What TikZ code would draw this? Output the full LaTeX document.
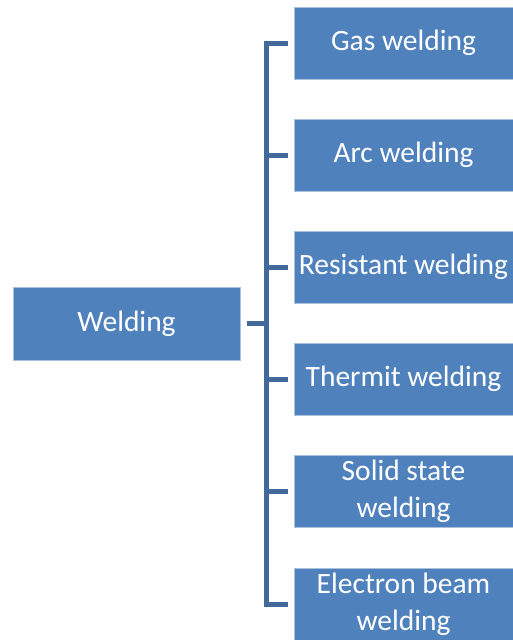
\documentclass[tikz,border=0pt]{standalone}
\usepackage{fontspec}
\setmainfont{Carlito}
\definecolor{boxblue}{HTML}{4F81BD}
\definecolor{boxedge}{HTML}{A9C1DF}
\definecolor{linkblue}{HTML}{41699B}
\begin{document}
\begin{tikzpicture}[x=1pt,y=-1pt,
  box/.style={fill=boxblue,draw=boxedge,line width=1pt,text=white,align=center,
    minimum width=219pt,minimum height=72pt,inner sep=2pt,
    font=\fontsize{29.5}{37}\selectfont},
  link/.style={draw=linkblue,line width=5pt}]
  \useasboundingbox (0,0) rectangle (513,640);
  \node[box,minimum width=227pt,minimum height=73pt] (root) at (126.5,323.5) {Welding};
  \foreach \y/\name/\lab in {43/gas/Gas welding, 155/arc/Arc welding,
      267/resist/Resistant welding, 379/thermit/Thermit welding,
      491/solid/{Solid state\\welding}, 604/beam/{Electron beam\\welding}} {
    \node[box] (\name) at (403.5,\y) {\lab};
  }
  \coordinate (spine) at (266,323.5);
  \draw[link] ([xshift=6pt]root.east) -- (spine);
  \draw[link] ([xshift=-6pt]gas.west) -| (spine |- beam.west) -- ([xshift=-6pt]beam.west);
  \foreach \name in {arc,resist,thermit,solid}
    \draw[link] (spine |- \name.west) -- ([xshift=-6pt]\name.west);
\end{tikzpicture}
\end{document}
